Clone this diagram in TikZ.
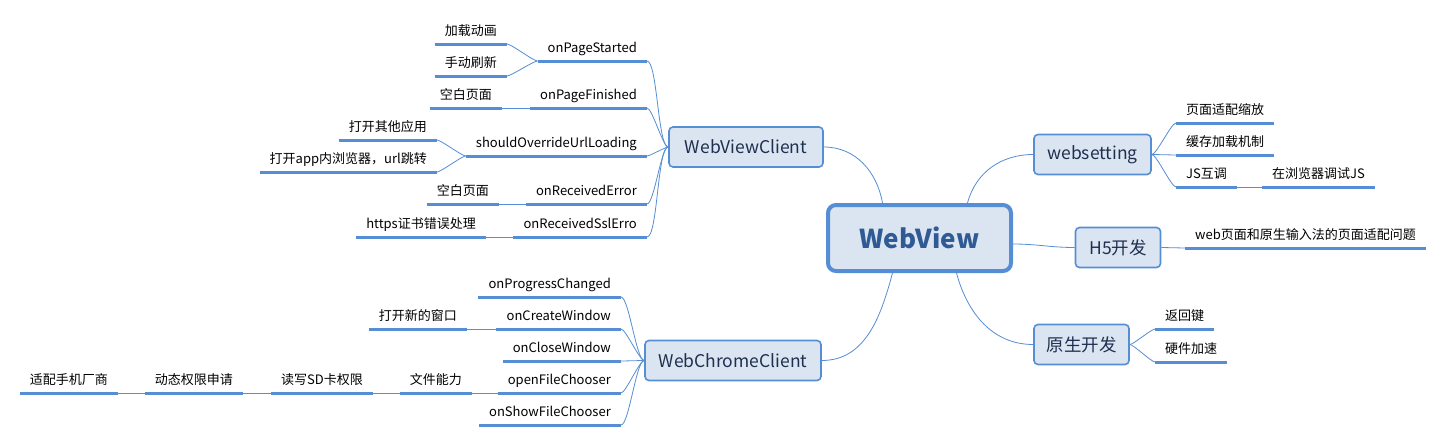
\documentclass[tikz,border=0pt]{standalone}
\usepackage{fontspec}
\setmainfont{Noto Sans CJK SC}
\usepackage{xcolor}
\usetikzlibrary{positioning}

\definecolor{linkblue}{HTML}{558ED5}
\definecolor{boxfill}{HTML}{DBE5F1}
\definecolor{rootink}{HTML}{2F5A94}
\definecolor{topicink}{HTML}{1F2F4F}

\tikzset{
  rootbox/.style={draw=linkblue,line width=4pt,fill=boxfill,rounded corners=8pt,
    minimum width=183pt,minimum height=66pt,text=rootink,
    font=\fontsize{26}{30}\selectfont\bfseries},
  topicbox/.style={draw=linkblue,line width=1.6pt,fill=boxfill,rounded corners=4pt,
    minimum height=40pt,text=topicink,font=\fontsize{17.5}{20}\selectfont},
  ulbar/.style={draw=linkblue,line width=3pt},
  leaf/.style={inner xsep=10pt,inner ysep=0pt,minimum height=27pt,text height=9.5pt,
    text depth=0pt,font=\fontsize{13}{15}\selectfont,
    append after command={(\tikzlastnode.south west) edge[ulbar] (\tikzlastnode.south east)}},
  lleaf/.style={leaf,anchor=south east},
  rleaf/.style={leaf,anchor=south west},
  link/.style={draw=linkblue,line width=0.8pt},
  leftfork/.style={out=180,in=0,looseness=0.3},
  rightfork/.style={out=0,in=180,looseness=0.3}
}

\begin{document}
\begin{tikzpicture}[x=1pt,y=-1pt]
  \fill[white] (0,0) rectangle (1444,442);
  \useasboundingbox (0,0) rectangle (1444,442);
  % centre and main topics
  \node[rootbox] (webview) at (919.5,238) {WebView};
  \node[topicbox,minimum width=154pt] (wvclient) at (746,147) {WebViewClient};
  \node[topicbox,minimum width=176pt] (wcclient) at (733,360.5) {WebChromeClient};
  \node[topicbox,minimum width=117pt] (websetting) at (1092.5,154.5) {websetting};
  \node[topicbox,minimum width=85pt] (hfive) at (1118,247.5) {H5开发};
  \node[topicbox,minimum width=95pt] (native) at (1081.5,344.5) {原生开发};
  \draw[link] ([xshift=-37pt]webview.north) to[out=100,in=0] (wvclient.east);
  \draw[link] ([xshift=48pt]webview.north) to[out=75,in=180] (websetting.west);
  \draw[link] ([yshift=-6pt]webview.east) to[out=0,in=180] (hfive.west);
  \draw[link] ([xshift=37pt]webview.south) to[out=-75,in=180] (native.west);
  \draw[link] ([xshift=-27pt]webview.south) to[out=-105,in=0] (wcclient.east);

  % WebViewClient callbacks
  \node[lleaf] (started) at (647,61) {onPageStarted};
  \node[lleaf] (finished) at (647,108) {onPageFinished};
  \node[lleaf] (override) at (647,156) {shouldOverrideUrlLoading};
  \node[lleaf] (recverr) at (647,204) {onReceivedError};
  \node[lleaf] (sslerr) at (647,237) {onReceivedSslErro};
  \draw[link] (wvclient.west) to[leftfork] (started.south east);
  \draw[link] (wvclient.west) to[leftfork] (finished.south east);
  \draw[link] (wvclient.west) to[leftfork] (override.south east);
  \draw[link] (wvclient.west) to[leftfork] (recverr.south east);
  \draw[link] (wvclient.west) to[leftfork] (sslerr.south east);
  \node[lleaf] (loadanim) at (507,44) {加载动画};
  \node[lleaf] (refresh) at (507,76) {手动刷新};
  \node[lleaf] (blankfin) at (502,108) {空白页面};
  \node[lleaf] (otherapp) at (437,140) {打开其他应用};
  \node[lleaf] (inapp) at (437,172) {打开app内浏览器，url跳转};
  \node[lleaf] (blankerr) at (499,204) {空白页面};
  \node[lleaf] (httpscert) at (486,237) {https证书错误处理};
  \draw[link] (started.south west) to[leftfork] (loadanim.south east);
  \draw[link] (started.south west) to[leftfork] (refresh.south east);
  \draw[link] (finished.south west) -- (blankfin.south east);
  \draw[link] (override.south west) to[leftfork] (otherapp.south east);
  \draw[link] (override.south west) to[leftfork] (inapp.south east);
  \draw[link] (recverr.south west) -- (blankerr.south east);
  \draw[link] (sslerr.south west) -- (httpscert.south east);

  % WebChromeClient callbacks
  \node[lleaf] (progress) at (621,297) {onProgressChanged};
  \node[lleaf] (createwin) at (621,329) {onCreateWindow};
  \node[lleaf] (closewin) at (621,361) {onCloseWindow};
  \node[lleaf] (openfile) at (621,393) {openFileChooser};
  \node[lleaf] (showfile) at (621,425) {onShowFileChooser};
  \draw[link] (wcclient.west) to[leftfork] (progress.south east);
  \draw[link] (wcclient.west) to[leftfork] (createwin.south east);
  \draw[link] (wcclient.west) to[leftfork] (closewin.south east);
  \draw[link] (wcclient.west) to[leftfork] (openfile.south east);
  \draw[link] (wcclient.west) to[leftfork] (showfile.south east);
  \node[lleaf] (newwin) at (467,329) {打开新的窗口};
  \node[lleaf] (fileability) at (472,393) {文件能力};
  \node[lleaf] (sdcard) at (373,393) {读写SD卡权限};
  \node[lleaf] (dynperm) at (243,393) {动态权限申请};
  \node[lleaf] (vendor) at (118,393) {适配手机厂商};
  \draw[link] (createwin.south west) -- (newwin.south east);
  \draw[link] (openfile.south west) -- (fileability.south east);
  \draw[link] (fileability.south west) -- (sdcard.south east);
  \draw[link] (sdcard.south west) -- (dynperm.south east);
  \draw[link] (dynperm.south west) -- (vendor.south east);

  % websetting, H5 and native
  \node[rleaf] (zoomfit) at (1176,123) {页面适配缩放};
  \node[rleaf] (cache) at (1176,155) {缓存加载机制};
  \node[rleaf] (jsbridge) at (1176,187) {JS互调};
  \node[rleaf] (jsdebug) at (1262,187) {在浏览器调试JS};
  \draw[link] (websetting.east) to[rightfork] (zoomfit.south west);
  \draw[link] (websetting.east) to[rightfork] (cache.south west);
  \draw[link] (websetting.east) to[rightfork] (jsbridge.south west);
  \draw[link] (jsbridge.south east) -- (jsdebug.south west);
  \node[rleaf] (imefit) at (1185,248) {web页面和原生输入法的页面适配问题};
  \draw[link] (hfive.east) -- (imefit.south west);
  \node[rleaf] (backkey) at (1155,329) {返回键};
  \node[rleaf] (hwaccel) at (1155,362) {硬件加速};
  \draw[link] (native.east) to[rightfork] (backkey.south west);
  \draw[link] (native.east) to[rightfork] (hwaccel.south west);
\end{tikzpicture}
\end{document}
